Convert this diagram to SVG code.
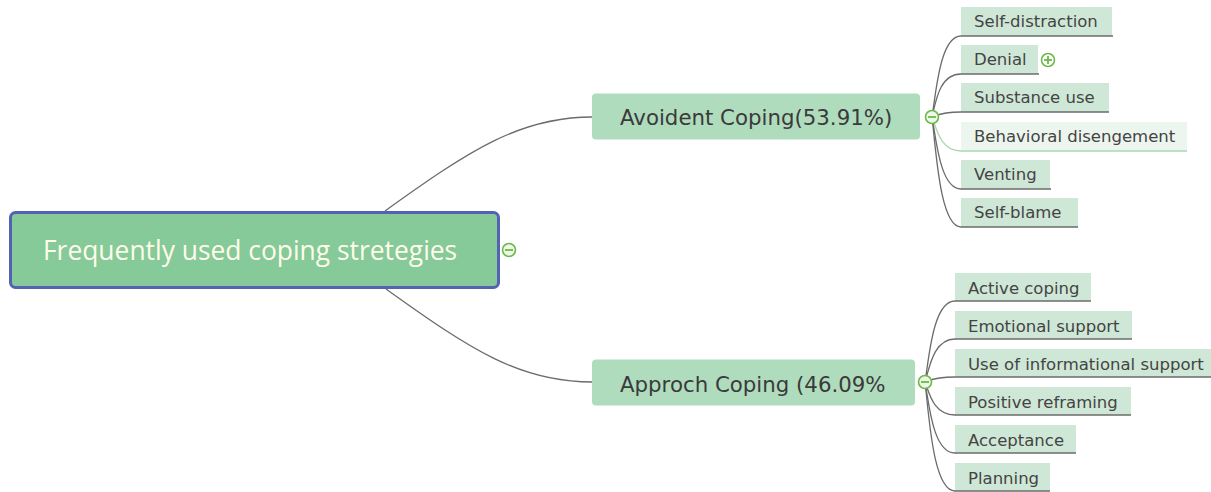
<svg xmlns="http://www.w3.org/2000/svg" width="1211" height="492" viewBox="0 0 1211 492">
<style>
.conn{fill:none;stroke:#6b6b6b;stroke-width:1.3}
.connl{fill:none;stroke:#a8d8b0;stroke-width:1.3}
.leaf{fill:#cfe7d6}
.leafl{fill:#ecf6ee}
.ul{stroke:#6b6b6b;stroke-width:1.6}
.ull{stroke:#a8d8b0;stroke-width:1.6}
.lt{font-family:"DejaVu Sans",Verdana,sans-serif;font-size:16.5px;fill:#444}
.mid{fill:#b0dcbe}
.mt{font-family:"DejaVu Sans",Verdana,sans-serif;font-size:21.3px;fill:#3a3a3a}
.tog{fill:#eef8e8;stroke:#6db84a;stroke-width:1.6}
.togl{stroke:#6db84a;stroke-width:1.8}
</style>
<rect width="1211" height="492" fill="#ffffff"/>
<g id="connectors">
<path class="conn" d="M385,211 C470,150 520,117 592,117"/>
<path class="conn" d="M386,289 C471,350 520,382 592,382"/>
<path class="conn" d="M932,117 C936,93 940,36 961,36"/>
<path class="conn" d="M932,117 C936,100 940,74 961,74"/>
<path class="conn" d="M932,117 C936,116 940,112 961,112"/>
<path class="connl" d="M932,117 C936,127 940,151 961,151"/>
<path class="conn" d="M932,117 C936,138 940,189 961,189"/>
<path class="conn" d="M932,117 C936,150 940,227 961,227"/>
<path class="conn" d="M925,382 C929,358 933,301 955,301"/>
<path class="conn" d="M925,382 C929,370 933,339 955,339"/>
<path class="conn" d="M925,382 C929,381 933,377 955,377"/>
<path class="conn" d="M925,382 C929,392 933,415 955,415"/>
<path class="conn" d="M925,382 C929,404 933,453 955,453"/>
<path class="conn" d="M925,382 C929,415 933,491 955,491"/>
</g>
<g id="root">
<rect x="10.5" y="212.5" width="488" height="75" rx="5" fill="#85ca98" stroke="#5462b4" stroke-width="3"/>
<text x="43" y="260" font-family="'Open Sans',Lato,sans-serif" font-size="26.4" fill="#fffbea">Frequently used coping stretegies</text>
<circle class="tog" cx="509" cy="250" r="6.5"/>
<line class="togl" x1="505" y1="250" x2="513" y2="250"/>
</g>
<g id="avoident">
<rect class="mid" x="592" y="93.5" width="328" height="46" rx="4"/>
<text class="mt" x="620" y="125">Avoident Coping(53.91%)</text>
<circle class="tog" cx="932" cy="117" r="6.5"/>
<line class="togl" x1="928" y1="117" x2="936" y2="117"/>
</g>
<g id="approch">
<rect class="mid" x="592" y="359.5" width="323" height="46" rx="4"/>
<text class="mt" x="620" y="392">Approch Coping (46.09%</text>
<circle class="tog" cx="925" cy="382" r="6.5"/>
<line class="togl" x1="921" y1="382" x2="929" y2="382"/>
</g>
<g id="self-distraction">
<rect class="leaf" x="961" y="7" width="151" height="29"/>
<line class="ul" x1="961" y1="36" x2="1113" y2="36"/>
<text class="lt" x="974" y="27">Self-distraction</text>
</g>
<g id="denial">
<rect class="leaf" x="961" y="45" width="77" height="29"/>
<line class="ul" x1="961" y1="74" x2="1039" y2="74"/>
<text class="lt" x="974" y="65">Denial</text>
<circle cx="1048" cy="60" r="6.5" fill="#ffffff" stroke="#6db84a" stroke-width="1.6"/>
<line class="togl" x1="1044" y1="60" x2="1052" y2="60"/>
<line class="togl" x1="1048" y1="56" x2="1048" y2="64"/>
</g>
<g id="substance-use">
<rect class="leaf" x="961" y="83" width="148" height="29"/>
<line class="ul" x1="961" y1="112" x2="1109" y2="112"/>
<text class="lt" x="974" y="103">Substance use</text>
</g>
<g id="behavioral-disengement">
<rect class="leafl" x="961" y="122" width="226" height="29"/>
<line class="ull" x1="961" y1="151" x2="1187" y2="151"/>
<text class="lt" x="974" y="142">Behavioral disengement</text>
</g>
<g id="venting">
<rect class="leaf" x="961" y="160" width="89" height="29"/>
<line class="ul" x1="961" y1="189" x2="1051" y2="189"/>
<text class="lt" x="974" y="180">Venting</text>
</g>
<g id="self-blame">
<rect class="leaf" x="961" y="198" width="117" height="29"/>
<line class="ul" x1="961" y1="227" x2="1078" y2="227"/>
<text class="lt" x="974" y="218">Self-blame</text>
</g>
<g id="active-coping">
<rect class="leaf" x="955" y="273" width="136" height="28"/>
<line class="ul" x1="955" y1="301" x2="1091" y2="301"/>
<text class="lt" x="968" y="294">Active coping</text>
</g>
<g id="emotional-support">
<rect class="leaf" x="955" y="311" width="177" height="28"/>
<line class="ul" x1="955" y1="339" x2="1132" y2="339"/>
<text class="lt" x="968" y="332">Emotional support</text>
</g>
<g id="use-of-informational-support">
<rect class="leaf" x="955" y="349" width="260" height="28"/>
<line class="ul" x1="955" y1="377" x2="1215" y2="377"/>
<text class="lt" x="968" y="370">Use of informational support</text>
</g>
<g id="positive-reframing">
<rect class="leaf" x="955" y="387" width="176" height="28"/>
<line class="ul" x1="955" y1="415" x2="1131" y2="415"/>
<text class="lt" x="968" y="408">Positive reframing</text>
</g>
<g id="acceptance">
<rect class="leaf" x="955" y="425" width="121" height="28"/>
<line class="ul" x1="955" y1="453" x2="1076" y2="453"/>
<text class="lt" x="968" y="446">Acceptance</text>
</g>
<g id="planning">
<rect class="leaf" x="955" y="463" width="95" height="28"/>
<line class="ul" x1="955" y1="491" x2="1050" y2="491"/>
<text class="lt" x="968" y="484">Planning</text>
</g>
</svg>
